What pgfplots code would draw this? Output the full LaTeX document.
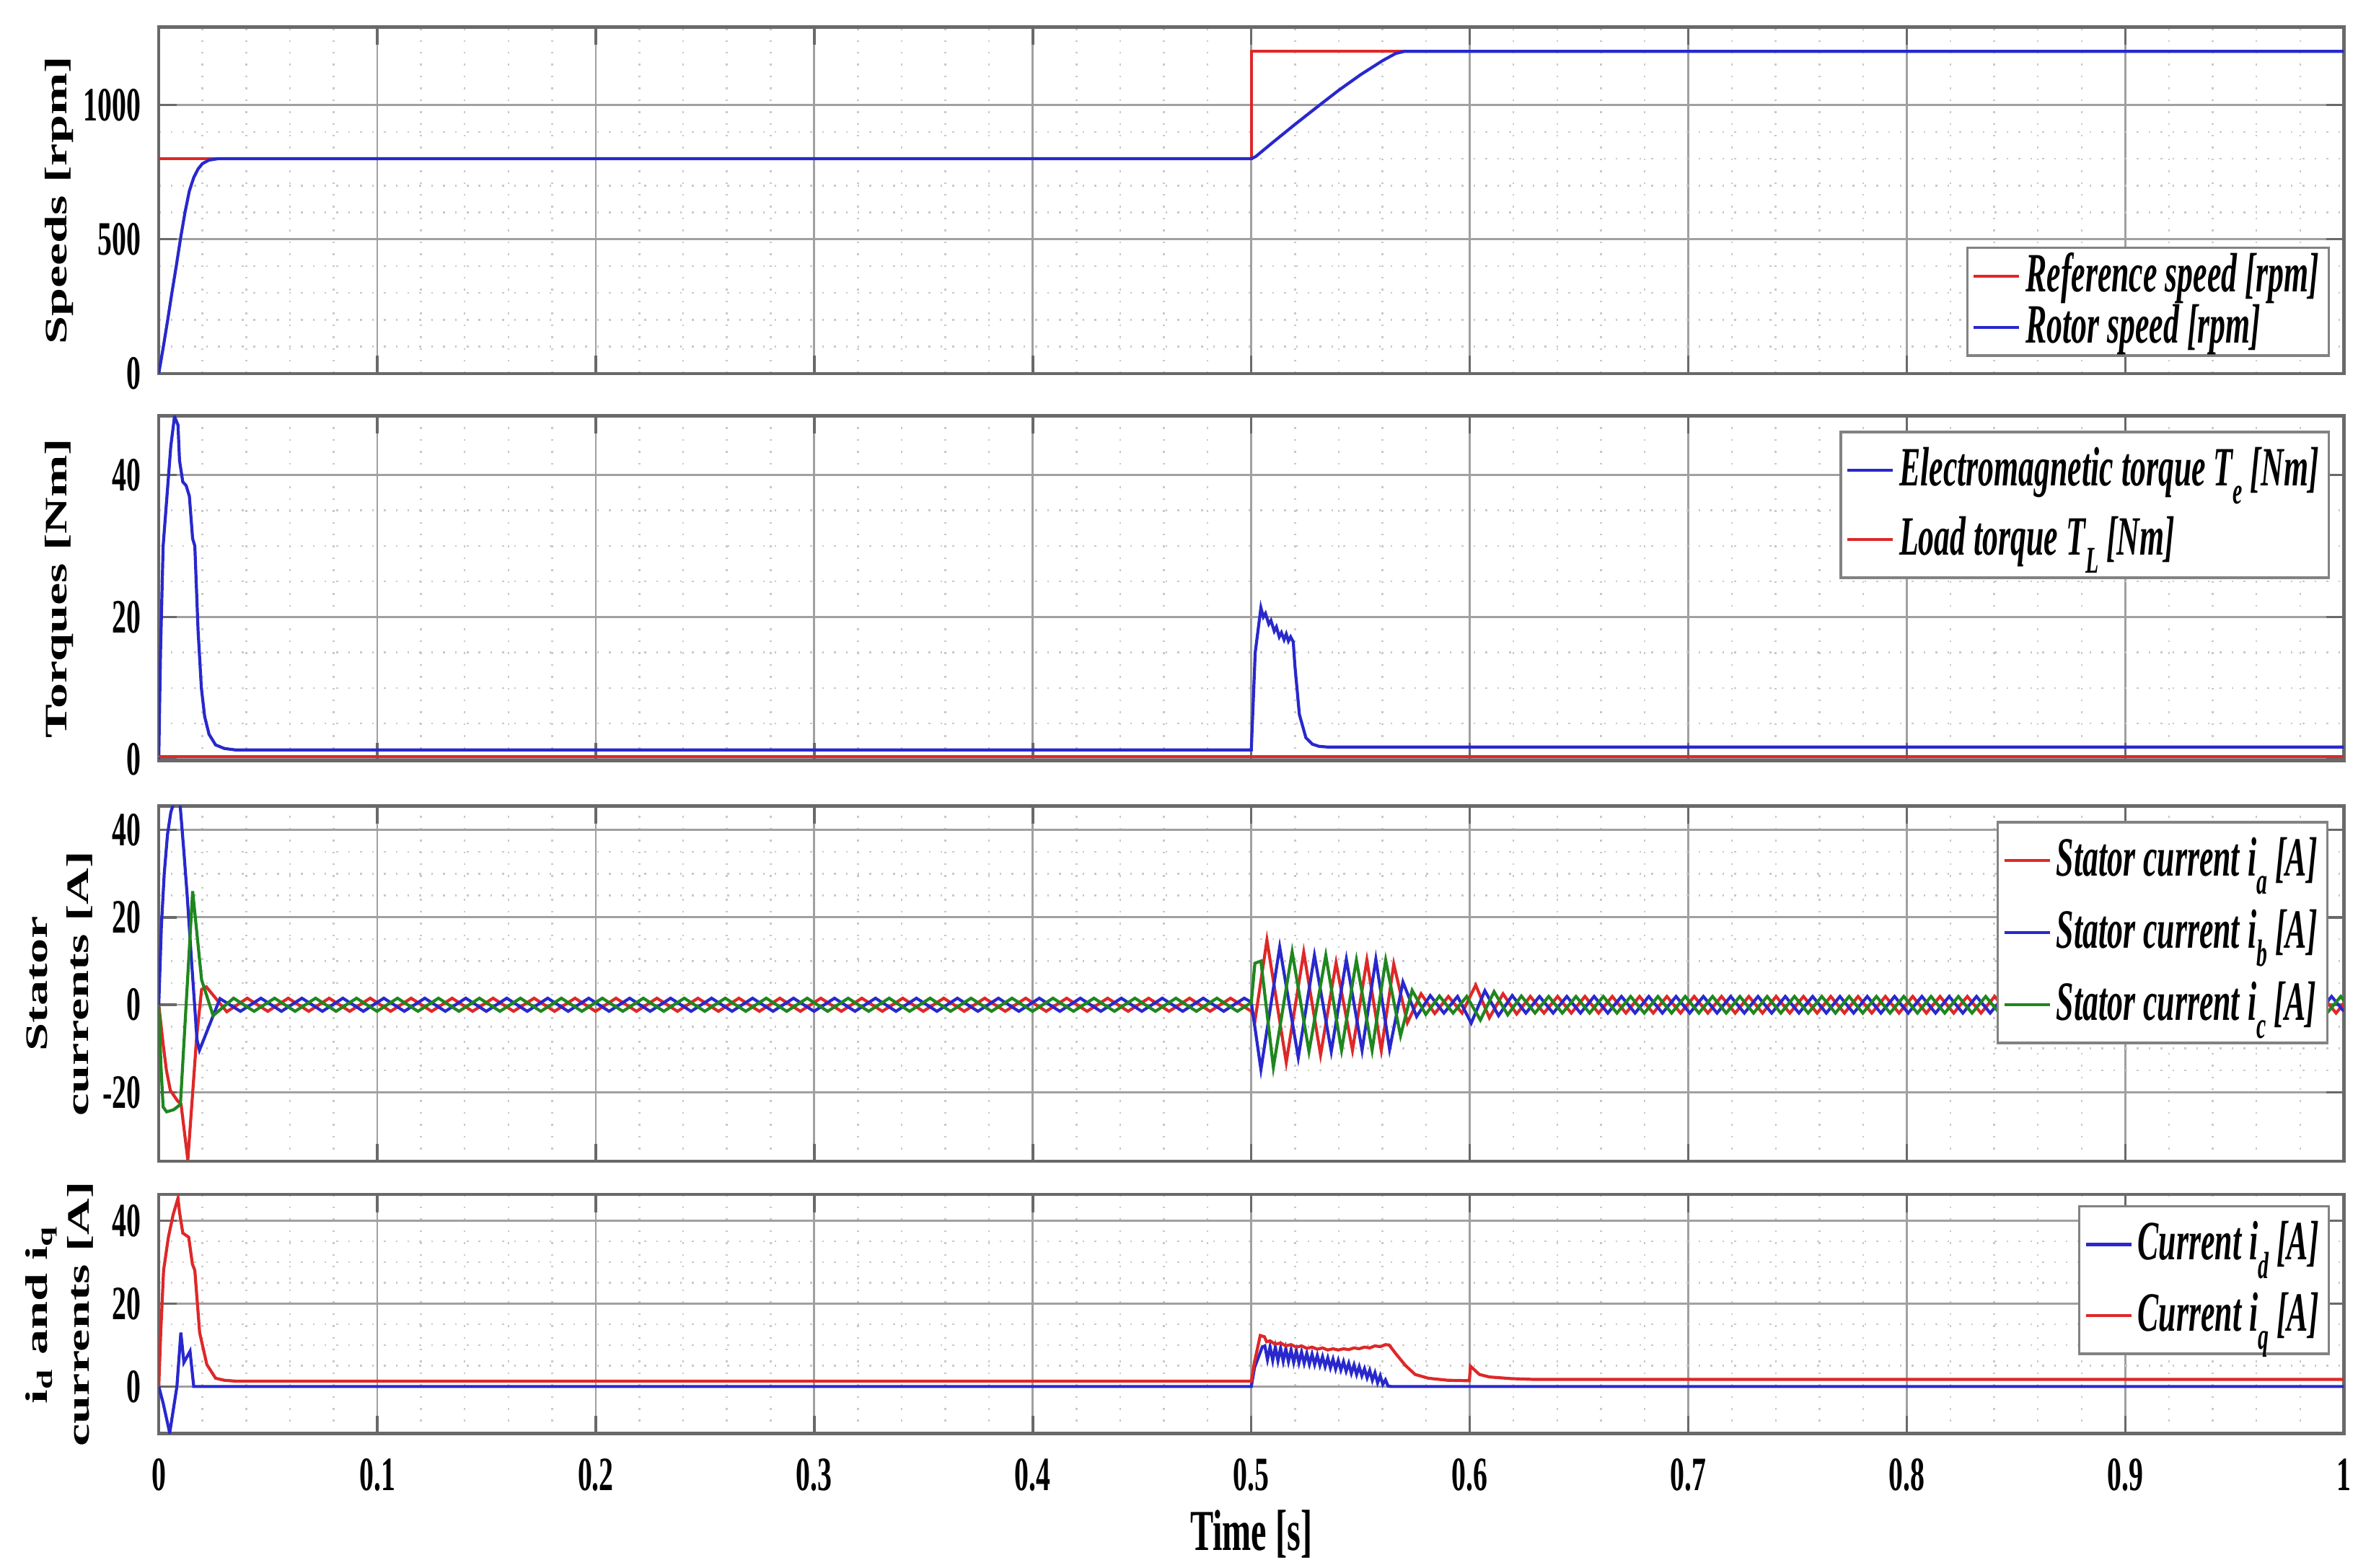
\documentclass[border=0pt]{standalone}
\usepackage{fontspec}
\setmainfont{Liberation Serif}[FakeStretch=0.6]
\newfontfamily\vlabelfont{Liberation Serif}[FakeStretch=1.62]
\newfontfamily\legfont{Liberation Serif}[FakeStretch=0.57]
\usepackage{pgfplots}
\pgfplotsset{compat=1.18}

\definecolor{mred}{RGB}{222,40,40}
\definecolor{mblue}{RGB}{40,40,205}
\definecolor{mgreen}{RGB}{30,135,30}
\definecolor{frame}{RGB}{105,105,105}
\definecolor{majgrid}{RGB}{160,160,160}
\definecolor{mingrid}{RGB}{200,200,200}
\definecolor{legframe}{RGB}{130,130,130}

\newcommand{\lsub}[1]{\raisebox{-3.6pt}{\fontsize{7.5}{7.5}\selectfont #1}}

\pgfplotsset{
  panel/.style={
    scale only axis, width=433.5pt, xmin=0, xmax=1,
    xtick={0,0.1,0.2,0.3,0.4,0.5,0.6,0.7,0.8,0.9,1},
    minor x tick num=4,
    grid=both,
    major grid style={color=majgrid, line width=0.4pt},
    minor grid style={color=mingrid, line width=0.35pt, dotted},
    axis line style={color=frame, line width=0.65pt},
    tick style={color=frame, line width=0.5pt},
    major tick length=3.5pt, minor tick length=0pt,
    tick align=inside,
    /pgf/number format/assume math mode=true,
    /pgf/number format/1000 sep={},
    tick label style={font=\fontsize{9.5}{10}\selectfont\bfseries},
    xticklabel style={yshift=-1.5pt},
    every axis y label/.style={at={(axis description cs:-0.0455,0.5)}, rotate=90, anchor=center, align=center, font=\vlabelfont\bfseries\fontsize{6.2}{8.2}\selectfont},
    legend cell align=left,
    legend style={draw=legframe, fill=white, line width=0.5pt, font=\legfont\fontsize{11}{12}\selectfont\bfseries\itshape, inner xsep=1pt, inner ysep=1pt, nodes={inner sep=1pt}, /tikz/every even column/.style={column sep=0pt}},
    legend image code/.code={\draw[#1] (0pt,0pt) -- (9pt,0pt);},
    every axis plot/.append style={line width=0.6pt},
  }
}

\begin{document}
\begin{tikzpicture}
\path[use as bounding box] (0,0) rectangle (470.4pt,-311.1pt);

% ---------- Panel 1: speeds ----------
\begin{axis}[panel, at={(31.5pt,-5.4pt)}, anchor=north west, height=68.7pt,
  ymin=0, ymax=1290, ytick={0,500,1000}, minor y tick num=4, xticklabels={},
  ylabel={Speeds [rpm]},
  legend style={at={(1,0)}, anchor=south east, xshift=-2.7pt, yshift=3.3pt, inner ysep=0pt, row sep=-1pt}]
\addplot[mred] coordinates {(0,800)(0.5,800)(0.5,1200)(1,1200)};
\addlegendentry{Reference speed [rpm]}
\addplot[mblue] coordinates {(0,0)(0.002,95)(0.004,195)(0.006,300)(0.008,400)(0.010,505)(0.012,600)(0.014,680)(0.016,730)(0.018,762)(0.020,782)(0.023,795)(0.027,800)(0.5,800)(0.502,808)(0.51,862)(0.52,928)(0.53,992)(0.54,1055)(0.55,1113)(0.56,1165)(0.566,1192)(0.57,1200)(1,1200)};
\addlegendentry{Rotor speed [rpm]}
\end{axis}

% ---------- Panel 2: torques ----------
\begin{axis}[panel, at={(31.5pt,-82.5pt)}, anchor=north west, height=68.4pt,
  ymin=-0.2, ymax=48.3, ytick={0,20,40}, minor y tick num=3, xticklabels={},
  ylabel={Torques [Nm]},
  legend style={at={(1,1)}, anchor=north east, xshift=-2.7pt, yshift=-3pt, row sep=2.6pt, inner ysep=2pt}]
\addplot[mblue] coordinates {(0,0)(0.0008,15)(0.002,30)(0.004,38)(0.0055,44)(0.0072,48.2)(0.0088,47)(0.0095,42)(0.011,39)(0.0125,38.5)(0.014,37)(0.0155,31)(0.0165,30)(0.018,18)(0.0195,10)(0.021,6)(0.023,3.5)(0.026,2)(0.03,1.5)(0.035,1.3)(0.5,1.3)(0.5018,15)(0.5044,21.3)(0.5055,20)(0.5065,20.5)(0.508,19)(0.509,19.5)(0.5105,18)(0.5115,18.6)(0.5128,17.2)(0.5138,17.8)(0.515,16.8)(0.516,17.6)(0.517,16.6)(0.518,17.2)(0.5192,16.5)(0.52,13)(0.522,6.3)(0.525,3)(0.528,2.1)(0.531,1.8)(0.535,1.7)(1,1.7)};
\addlegendentry{Electromagnetic torque T\lsub{e} [Nm]}
\addplot[mred] coordinates {(0,0.35)(1,0.35)};
\addlegendentry{Load torque T\lsub{L} [Nm]}
\end{axis}

% ---------- Panel 3: stator currents ----------
\begin{axis}[panel, at={(31.5pt,-159.9pt)}, anchor=north west, height=70.5pt,
  ymin=-35.8, ymax=45.5, ytick={-20,0,20,40}, minor y tick num=3, xticklabels={},
  ylabel={Stator\\currents [A]},
  legend style={at={(1,1)}, anchor=north east, xshift=-3pt, yshift=-3pt, row sep=3.2pt, inner ysep=2pt}]
\addplot[mred] coordinates {(0,0)(0.002,-9)(0.0035,-15)(0.0053,-19.6)(0.0086,-22)(0.0102,-22.8)(0.0133,-35.5)(0.0174,-7)(0.0196,3.5)(0.02175,4.1)
(0.031125,-1.6)(0.0405,1.5)(0.049875,-1.5)(0.05925,1.5)(0.068625,-1.5)(0.078,1.5)(0.087375,-1.5)(0.09675,1.5)(0.106125,-1.5)(0.1155,1.5)
(0.124875,-1.5)(0.13425,1.5)(0.143625,-1.5)(0.153,1.5)(0.162375,-1.5)(0.17175,1.5)(0.181125,-1.5)(0.1905,1.5)(0.199875,-1.5)(0.20925,1.5)
(0.218625,-1.5)(0.228,1.5)(0.237375,-1.5)(0.24675,1.5)(0.256125,-1.5)(0.2655,1.5)(0.274875,-1.5)(0.28425,1.5)(0.293625,-1.5)(0.303,1.5)
(0.312375,-1.5)(0.32175,1.5)(0.331125,-1.5)(0.3405,1.5)(0.349875,-1.5)(0.35925,1.5)(0.368625,-1.5)(0.378,1.5)(0.387375,-1.5)(0.39675,1.5)
(0.406125,-1.5)(0.4155,1.5)(0.424875,-1.5)(0.43425,1.5)(0.443625,-1.5)(0.453,1.5)(0.462375,-1.5)(0.47175,1.5)(0.481125,-1.5)(0.4905,1.5)
(0.5,-1.5)(0.5017,-3.6)(0.50716,14.8)(0.5160,-13.2)(0.5240,12.0)(0.5317,-11.5)(0.5388,9.6)(0.5463,-10.4)(0.5529,10.2)(0.5595,-10.4)(0.5652,9.3)
(0.57145,-4.1)(0.5777,2.5)(0.58395,-2.0)(0.5902,1.9)(0.59645,-1.9)(0.6027,4.5)(0.60895,-3.0)(0.6152,2.5)(0.62145,-2.1)
(0.6277,1.9)(0.63395,-1.9)(0.6402,1.9)(0.64645,-1.9)(0.6527,1.9)(0.65895,-1.9)(0.6652,1.9)(0.67145,-1.9)(0.6777,1.9)(0.68395,-1.9)
(0.6902,1.9)(0.69645,-1.9)(0.7027,1.9)(0.70895,-1.9)(0.7152,1.9)(0.72145,-1.9)(0.7277,1.9)(0.73395,-1.9)(0.7402,1.9)(0.74645,-1.9)
(0.7527,1.9)(0.75895,-1.9)(0.7652,1.9)(0.77145,-1.9)(0.7777,1.9)(0.78395,-1.9)(0.7902,1.9)(0.79645,-1.9)(0.8027,1.9)(0.80895,-1.9)
(0.8152,1.9)(0.82145,-1.9)(0.8277,1.9)(0.83395,-1.9)(0.8402,1.9)(0.84645,-1.9)(0.8527,1.9)(0.85895,-1.9)(0.8652,1.9)(0.87145,-1.9)
(0.8777,1.9)(0.88395,-1.9)(0.8902,1.9)(0.89645,-1.9)(0.9027,1.9)(0.90895,-1.9)(0.9152,1.9)(0.92145,-1.9)(0.9277,1.9)(0.93395,-1.9)
(0.9402,1.9)(0.94645,-1.9)(0.9527,1.9)(0.95895,-1.9)(0.9652,1.9)(0.97145,-1.9)(0.9777,1.9)(0.98395,-1.9)(0.9902,1.9)(0.99645,-1.9)(1,0.25)};
\addlegendentry{Stator current i\lsub{a} [A]}
\addplot[mblue] coordinates {(0,0)(0.0012,18)(0.0025,30)(0.004,39)(0.0055,44)(0.007,46.5)(0.0085,47)(0.0098,45.5)(0.0115,35)(0.013,25)(0.015,10)(0.0175,-8)(0.018625,-10.4)
(0.028,1.4)(0.037375,-1.5)(0.04675,1.5)(0.056125,-1.5)(0.0655,1.5)(0.074875,-1.5)(0.08425,1.5)(0.093625,-1.5)(0.103,1.5)(0.112375,-1.5)
(0.12175,1.5)(0.131125,-1.5)(0.1405,1.5)(0.149875,-1.5)(0.15925,1.5)(0.168625,-1.5)(0.178,1.5)(0.187375,-1.5)(0.19675,1.5)(0.206125,-1.5)
(0.2155,1.5)(0.224875,-1.5)(0.23425,1.5)(0.243625,-1.5)(0.253,1.5)(0.262375,-1.5)(0.27175,1.5)(0.281125,-1.5)(0.2905,1.5)(0.299875,-1.5)
(0.30925,1.5)(0.318625,-1.5)(0.328,1.5)(0.337375,-1.5)(0.34675,1.5)(0.356125,-1.5)(0.3655,1.5)(0.374875,-1.5)(0.38425,1.5)(0.393625,-1.5)
(0.403,1.5)(0.412375,-1.5)(0.42175,1.5)(0.431125,-1.5)(0.4405,1.5)(0.449875,-1.5)(0.45925,1.5)(0.468625,-1.5)(0.478,1.5)(0.487375,-1.5)(0.49675,1.5)
(0.5,0.6)(0.50441,-14.8)(0.5130,13.2)(0.5215,-12.1)(0.5289,11.3)(0.5366,-10.7)(0.5435,10.4)(0.5507,-10.4)(0.5570,10.4)(0.5633,-10.2)
(0.5694,5.2)(0.57565,-2.7)(0.5819,2.1)(0.58815,-1.9)(0.5944,1.9)(0.60065,-4.2)(0.6069,3.2)(0.61315,-2.5)(0.6194,2.1)
(0.62565,-1.9)(0.6319,1.9)(0.63815,-1.9)(0.6444,1.9)(0.65065,-1.9)(0.6569,1.9)(0.66315,-1.9)(0.6694,1.9)(0.67565,-1.9)(0.6819,1.9)
(0.68815,-1.9)(0.6944,1.9)(0.70065,-1.9)(0.7069,1.9)(0.71315,-1.9)(0.7194,1.9)(0.72565,-1.9)(0.7319,1.9)(0.73815,-1.9)(0.7444,1.9)
(0.75065,-1.9)(0.7569,1.9)(0.76315,-1.9)(0.7694,1.9)(0.77565,-1.9)(0.7819,1.9)(0.78815,-1.9)(0.7944,1.9)(0.80065,-1.9)(0.8069,1.9)
(0.81315,-1.9)(0.8194,1.9)(0.82565,-1.9)(0.8319,1.9)(0.83815,-1.9)(0.8444,1.9)(0.85065,-1.9)(0.8569,1.9)(0.86315,-1.9)(0.8694,1.9)
(0.87565,-1.9)(0.8819,1.9)(0.88815,-1.9)(0.8944,1.9)(0.90065,-1.9)(0.9069,1.9)(0.91315,-1.9)(0.9194,1.9)(0.92565,-1.9)(0.9319,1.9)
(0.93815,-1.9)(0.9444,1.9)(0.95065,-1.9)(0.9569,1.9)(0.96315,-1.9)(0.9694,1.9)(0.97565,-1.9)(0.9819,1.9)(0.98815,-1.9)(0.9944,1.9)(1,-1.5)};
\addlegendentry{Stator current i\lsub{b} [A]}
\addplot[mgreen] coordinates {(0,0)(0.001,-14)(0.002,-23.4)(0.0036,-24.5)(0.0069,-24)(0.0099,-22.8)(0.0155,26)(0.0196,5.7)(0.024875,-2.5)
(0.03425,1.5)(0.043625,-1.5)(0.053,1.5)(0.062375,-1.5)(0.07175,1.5)(0.081125,-1.5)(0.0905,1.5)(0.099875,-1.5)(0.10925,1.5)(0.118625,-1.5)
(0.128,1.5)(0.137375,-1.5)(0.14675,1.5)(0.156125,-1.5)(0.1655,1.5)(0.174875,-1.5)(0.18425,1.5)(0.193625,-1.5)(0.203,1.5)(0.212375,-1.5)
(0.22175,1.5)(0.231125,-1.5)(0.2405,1.5)(0.249875,-1.5)(0.25925,1.5)(0.268625,-1.5)(0.278,1.5)(0.287375,-1.5)(0.29675,1.5)(0.306125,-1.5)
(0.3155,1.5)(0.324875,-1.5)(0.33425,1.5)(0.343625,-1.5)(0.353,1.5)(0.362375,-1.5)(0.37175,1.5)(0.381125,-1.5)(0.3905,1.5)(0.399875,-1.5)
(0.40925,1.5)(0.418625,-1.5)(0.428,1.5)(0.437375,-1.5)(0.44675,1.5)(0.456125,-1.5)(0.4655,1.5)(0.474875,-1.5)(0.48425,1.5)(0.493625,-1.5)
(0.5,0.5)(0.50165,9.5)(0.5044,10)(0.5101,-14.3)(0.5187,12.1)(0.5264,-10.7)(0.5341,11.3)(0.5413,-10.4)(0.5481,10.2)(0.5553,-10.4)(0.5615,10.2)(0.5683,-7.1)
(0.5736,3.3)(0.57985,-2.2)(0.5861,2.0)(0.59235,-1.9)(0.5986,1.9)(0.60485,-3.5)(0.6111,3.0)(0.61735,-2.3)(0.6236,2.0)
(0.62985,-1.9)(0.6361,1.9)(0.64235,-1.9)(0.6486,1.9)(0.65485,-1.9)(0.6611,1.9)(0.66735,-1.9)(0.6736,1.9)(0.67985,-1.9)(0.6861,1.9)
(0.69235,-1.9)(0.6986,1.9)(0.70485,-1.9)(0.7111,1.9)(0.71735,-1.9)(0.7236,1.9)(0.72985,-1.9)(0.7361,1.9)(0.74235,-1.9)(0.7486,1.9)
(0.75485,-1.9)(0.7611,1.9)(0.76735,-1.9)(0.7736,1.9)(0.77985,-1.9)(0.7861,1.9)(0.79235,-1.9)(0.7986,1.9)(0.80485,-1.9)(0.8111,1.9)
(0.81735,-1.9)(0.8236,1.9)(0.82985,-1.9)(0.8361,1.9)(0.84235,-1.9)(0.8486,1.9)(0.85485,-1.9)(0.8611,1.9)(0.86735,-1.9)(0.8736,1.9)
(0.87985,-1.9)(0.8861,1.9)(0.89235,-1.9)(0.8986,1.9)(0.90485,-1.9)(0.9111,1.9)(0.91735,-1.9)(0.9236,1.9)(0.92985,-1.9)(0.9361,1.9)
(0.94235,-1.9)(0.9486,1.9)(0.95485,-1.9)(0.9611,1.9)(0.96735,-1.9)(0.9736,1.9)(0.97985,-1.9)(0.9861,1.9)(0.99235,-1.9)(0.9986,1.9)(1,1.0)};
\addlegendentry{Stator current i\lsub{c} [A]}
\end{axis}

% ---------- Panel 4: id, iq ----------
\begin{axis}[panel, at={(31.5pt,-237pt)}, anchor=north west, height=47.4pt,
  ymin=-11.3, ymax=46.3, ytick={0,20,40}, minor y tick num=3,
  ylabel={i\textsubscript{d} and i\textsubscript{q}\\currents [A]},
  xlabel={Time [s]},
  xlabel style={font=\fontsize{11.5}{12}\selectfont\bfseries, at={(axis description cs:0.5,0)}, anchor=center, yshift=-20pt},
  legend style={at={(1,1)}, anchor=north east, xshift=-2.7pt, yshift=-2.1pt, row sep=3pt, inner ysep=2pt}]
\addplot[mblue] coordinates {(0,0)(0.002,-4)(0.005,-11.2)(0.0083,0)(0.0101,13)(0.0115,5.8)(0.0143,8.5)(0.016,0)(0.5,0)(0.5015,4.6)(0.505,9.5)
(0.5062,9.8)(0.5074,6.5)(0.5086,9.6)(0.5098,6.3)(0.5110,9.5)(0.5122,6.2)(0.5134,9.3)(0.5146,6.1)(0.5158,9.1)(0.5170,6.0)
(0.5182,8.8)(0.5194,5.8)(0.5206,8.6)(0.5218,5.7)(0.5230,8.3)(0.5242,5.6)(0.5254,8.0)(0.5266,5.4)(0.5278,7.8)(0.5290,5.3)
(0.5302,7.5)(0.5314,5.1)(0.5326,7.2)(0.5338,4.8)(0.5350,6.9)(0.5362,4.5)(0.5374,6.6)(0.5386,4.2)(0.5398,6.3)(0.5410,4.0)
(0.5422,6.0)(0.5434,3.7)(0.5446,5.6)(0.5458,3.2)(0.5470,5.2)(0.5482,2.9)(0.5494,4.8)(0.5506,2.6)(0.5518,4.3)(0.5530,2.1)
(0.5542,3.9)(0.5554,1.5)(0.5566,3.3)(0.5578,0.9)(0.5590,2.6)(0.5602,0.5)(0.5614,1.6)(0.5626,0.1)(0.5640,0)(1,0)};
\addlegendentry{Current i\lsub{d} [A]}
\addplot[mred] coordinates {(0,0)(0.0009,13)(0.0022,28)(0.0044,36)(0.0066,41.5)(0.0088,45.4)(0.0095,42)(0.011,37)(0.0137,36)(0.0154,29.5)(0.0165,28)(0.0187,13)(0.022,5.3)(0.026,2)(0.03,1.5)(0.035,1.3)
(0.5,1.3)(0.5015,6)(0.5041,12.3)(0.506,12)(0.507,10.8)(0.5086,11)(0.511,10.2)(0.5134,10.5)(0.5158,9.8)(0.5182,10.1)(0.5206,9.5)(0.523,9.8)(0.5254,9.2)(0.5278,9.5)(0.5302,9.0)(0.5326,9.3)(0.535,8.8)(0.5374,9.1)(0.5398,8.8)(0.5422,9.1)(0.5446,8.9)(0.547,9.3)(0.5494,9.1)(0.5518,9.5)(0.5542,9.3)(0.5566,9.8)(0.559,9.6)(0.5614,10.1)(0.5631,10)
(0.566,8)(0.5705,5.1)(0.575,2.9)(0.581,2.0)(0.59,1.5)(0.5998,1.4)(0.6003,4.9)(0.6044,2.9)(0.609,2.3)(0.619,1.9)(0.63,1.7)(1,1.7)};
\addlegendentry{Current i\lsub{q} [A]}
\end{axis}
\end{tikzpicture}
\end{document}
